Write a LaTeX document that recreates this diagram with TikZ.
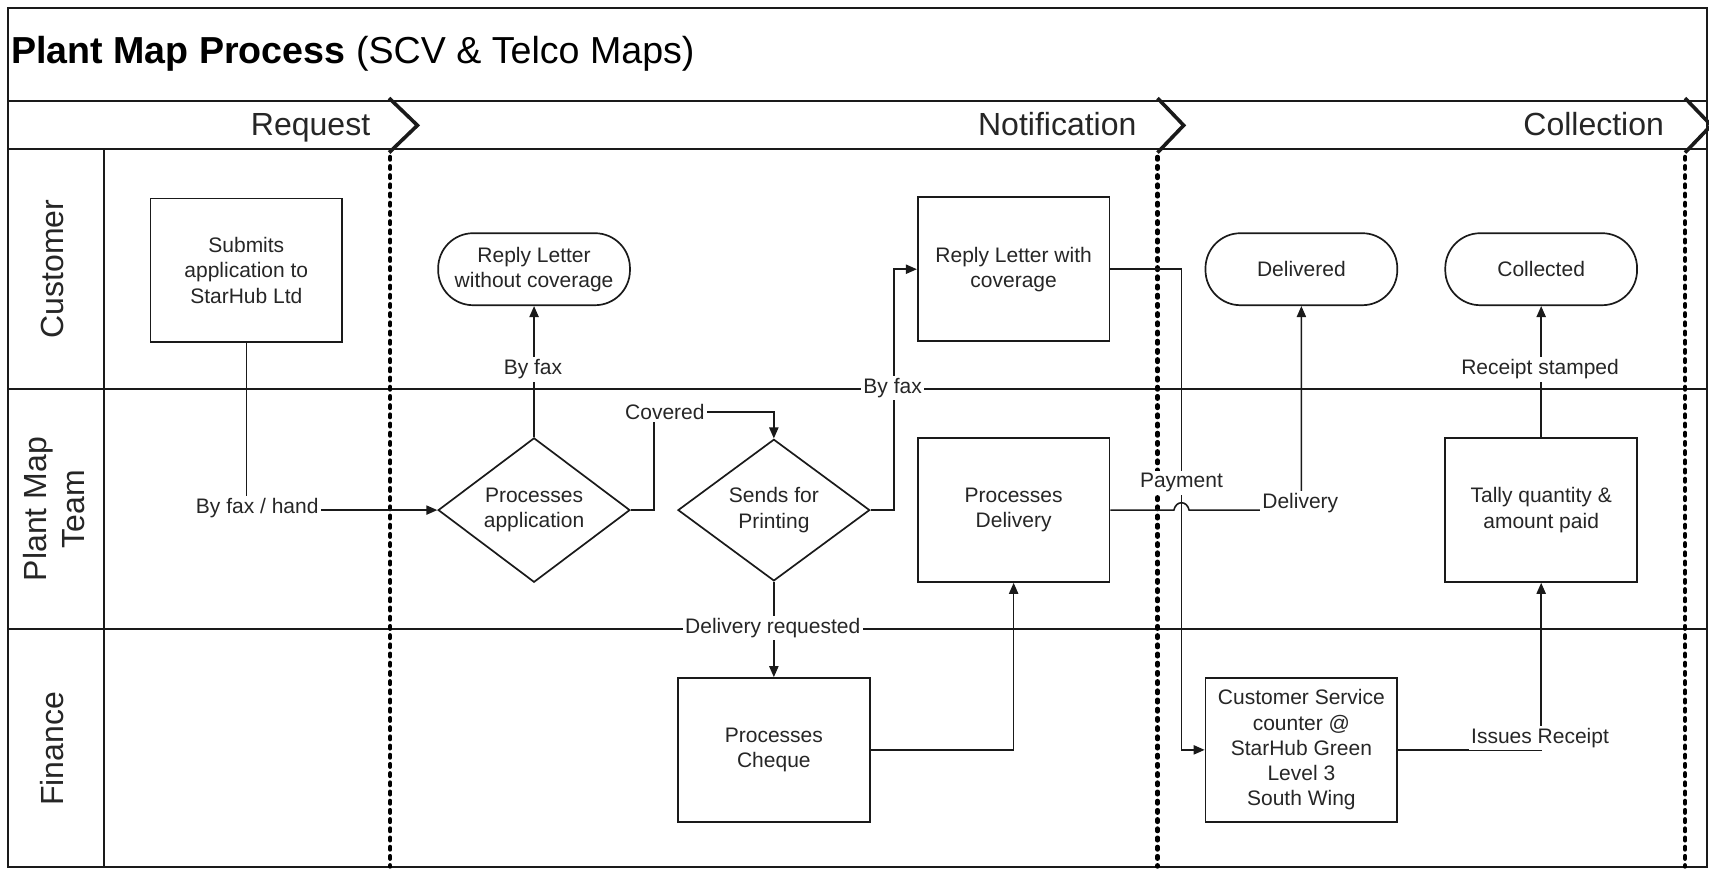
\documentclass[tikz,border=0pt]{standalone}
\usepackage{fontspec}
\setmainfont{Liberation Sans}
\usetikzlibrary{arrows.meta,shapes.geometric}
\definecolor{ln}{HTML}{1A1A1A}
\definecolor{tx}{HTML}{262626}
\newcommand\nodefnt{\fontsize{10.5}{12.6}\selectfont}
\newcommand\headfnt{\fontsize{16}{19}\selectfont}
\begin{document}
\begin{tikzpicture}[x=0.545pt,y=-0.545pt,
  frame/.style={draw=ln,line width=1pt},
  dotline/.style={draw=black,line width=2.2pt,line cap=round,dash pattern=on 1.3pt off 3.3pt},
  chev/.style={draw=ln,line width=1.8pt},
  box/.style={draw=ln,line width=0.85pt,minimum width=95.9pt,minimum height=71.9pt,inner sep=1pt,align=center,font=\nodefnt,text=tx},
  term/.style={draw=ln,line width=0.85pt,minimum width=95.9pt,minimum height=36pt,rounded corners=17.5pt,inner sep=1pt,align=center,font=\nodefnt,text=tx},
  dec/.style={draw=ln,line width=0.85pt,shape=diamond,minimum width=95.9pt,minimum height=70.8pt,inner sep=0pt,align=center,font=\nodefnt,text=tx},
  conn/.style={draw=ln,line width=0.8pt,-{Triangle[length=5.5pt,width=4.6pt]}},
  lbl/.style={fill=white,inner sep=1.2pt,font=\nodefnt,text=tx},
  lane/.style={rotate=90,font=\headfnt,align=center,text=tx},
  head/.style={anchor=base east,inner sep=0pt,font=\headfnt,text=tx}
]
\useasboundingbox (0,0) rectangle (1568,797);
\fill[white] (0,0) rectangle (1568,797);

% frame and lanes
\draw[frame] (7,7) rectangle (1566,795);
\draw[frame] (7,93) -- (1566,93);
\draw[frame] (7,137) -- (1566,137);
\draw[frame] (95,137) -- (95,795);
\draw[frame] (7,357) -- (1566,357);
\draw[frame] (7,577) -- (1566,577);

% title
\node[anchor=base west,text=black,font=\fontsize{18.8}{22}\selectfont,inner sep=0pt] (title) at (10,58) {\textbf{Plant Map Process} (SCV \& Telco Maps)};

% phase headers
\node[head] (hreq) at (340,124) {Request};
\node[head] (hnot) at (1043,124) {Notification};
\node[head] (hcol) at (1527,124) {Collection};
\draw[chev] (357,90) -- (383,115) -- (357,140);
\draw[chev] (1062,90) -- (1086,115) -- (1062,140);
\draw[chev] (1546,90) -- (1570,115) -- (1546,140);
\draw[dotline] (358,144) -- (358,795);
\draw[dotline] (1062,144) -- (1062,795);
\draw[dotline] (1546,144) -- (1546,795);

% lane labels
\node[lane] (lcust) at (48,247) {Customer};
\node[lane] (lplant) at (50,467) {Plant Map\\Team};
\node[lane] (lfin) at (48,687) {Finance};

% nodes
\node[box] (sub) at (226,248) {Submits\\application to\\StarHub Ltd};
\node[term] (rlw) at (490,247) {Reply Letter\\without coverage};
\node[dec] (pa) at (490,468) {Processes\\application};
\node[dec] (sp) at (710,468) {Sends for\\Printing};
\node[box] (rlc) at (930,247) {Reply Letter with\\coverage};
\node[box] (pd) at (930,468) {Processes\\Delivery};
\node[box] (pc) at (710,688) {Processes\\Cheque};
\node[term] (del) at (1194,247) {Delivered};
\node[term] (col) at (1414,247) {Collected};
\node[box] (tq) at (1414,468) {Tally quantity \&\\amount paid};
\node[box] (cs) at (1194,688) {Customer Service\\counter @\\StarHub Green\\Level 3\\South Wing};

% helper coordinates
\coordinate (c1) at (600,378);
\coordinate (c2) at (820,357);
\coordinate (c3) at (1084,443);
\coordinate (h1) at (1077,468);
\coordinate (h2) at (1091,468);

% connectors
\draw[conn] (sub.south) |- (pa.west);
\draw[conn] (pa.north) -- (rlw.south);
\draw[conn] (pa.east) -| (c1) -| (sp.north);
\draw[conn] (sp.east) -| (c2) |- (rlc.west);
\draw[conn] (sp.south) -- (pc.north);
\draw[conn] (pc.east) -| (pd.south);
\draw[conn] (rlc.east) -| (c3) |- (cs.west);
\draw[conn] (pd.east) -- (h1) .. controls (1079,459) and (1089,459) .. (h2) -| (del.south);
\draw[conn] (tq.north) -- (col.south);
\draw[conn] (cs.east) -| (tq.south);

% connector labels
\node[lbl] (l1) at (236,466) {By fax / hand};
\node[lbl] (l2) at (489,339) {By fax};
\node[lbl] (l3) at (610,378) {Covered};
\node[lbl] (l4) at (819,356) {By fax};
\node[lbl] (l5) at (709,576) {Delivery requested};
\node[lbl] (l6) at (1084,443) {Payment};
\node[lbl] (l7) at (1193,462) {Delivery};
\node[lbl] (l8) at (1413,339) {Receipt stamped};
\node[lbl] (l9) at (1413,677) {Issues Receipt};
\end{tikzpicture}
\end{document}
